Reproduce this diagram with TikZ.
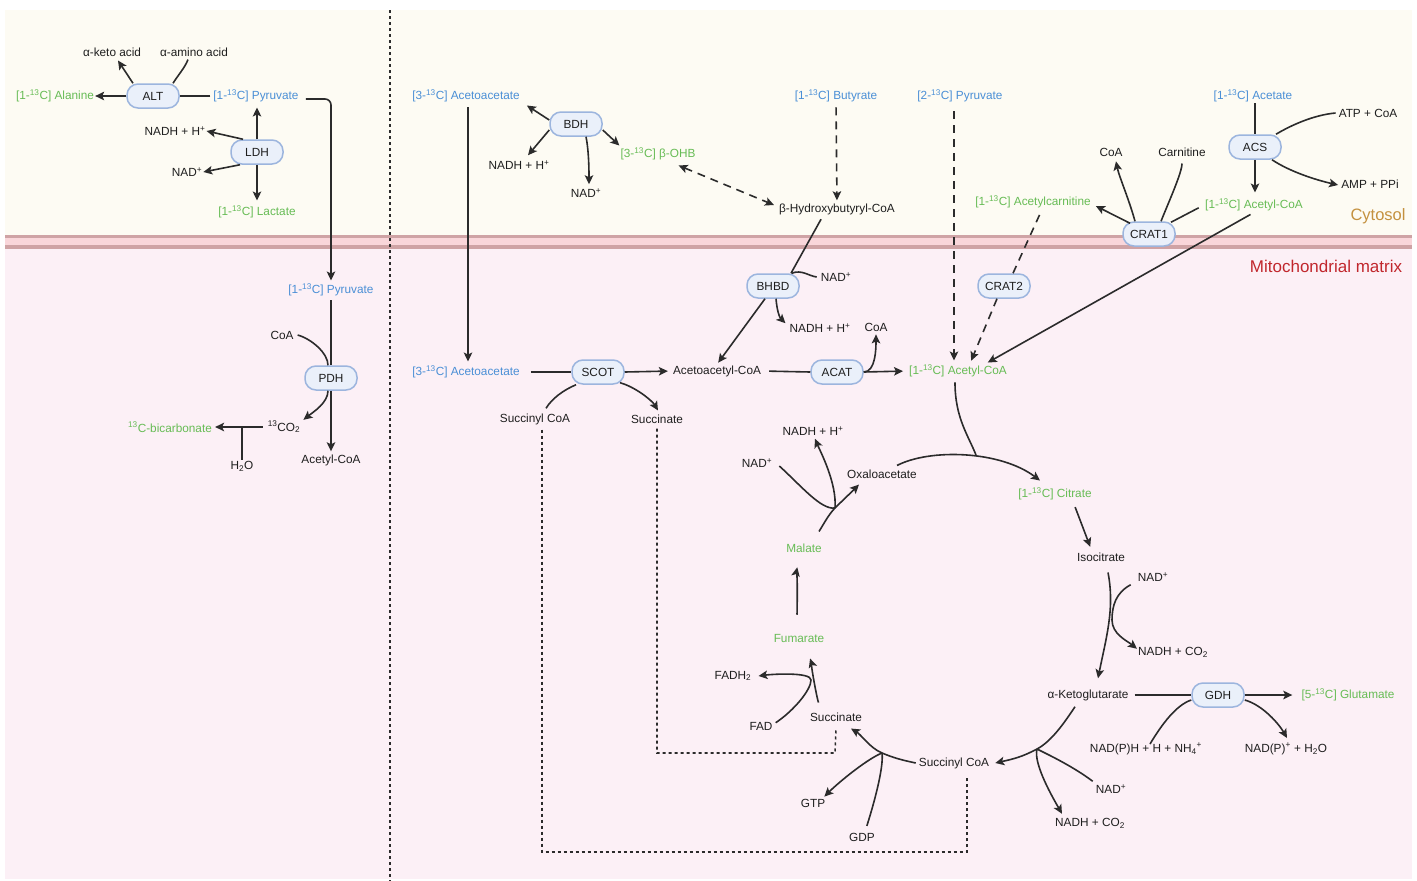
\documentclass[tikz,border=0pt]{standalone}
\usepackage{fontspec}
\setmainfont{Liberation Sans}
\usetikzlibrary{arrows.meta,calc}
\definecolor{cyto}{HTML}{FDFBF3}
\definecolor{mito}{HTML}{FCF0F6}
\definecolor{memf}{HTML}{F9D6DA}
\definecolor{memd}{HTML}{CFA3A5}
\definecolor{blu}{HTML}{4A8FD6}
\definecolor{grn}{HTML}{67BC55}
\definecolor{txt}{HTML}{1E1E1E}
\definecolor{lc}{HTML}{2B2B2B}
\definecolor{enzf}{HTML}{EAF0FA}
\definecolor{enzd}{HTML}{9CB5DE}
\definecolor{cytc}{HTML}{C4913F}
\definecolor{mitc}{HTML}{C1272D}
\newcommand\lbf{\fontsize{11.8}{13}\selectfont}
\newcommand\myup[1]{\textsuperscript{#1}}
\newcommand\mydn[1]{\textsubscript{#1}}
\tikzset{
 lbl/.style={font=\lbf, inner sep=1pt, text=txt},
 blu/.style={lbl, text=blu},
 grn/.style={lbl, text=grn},
 enz/.style={draw=enzd, fill=enzf, line width=1.5pt, rounded corners=11pt, minimum width=52pt, minimum height=24pt, font=\lbf, inner sep=2pt, text=txt},
 conn/.style={draw=lc, line width=1.6pt},
 tip/.tip={Stealth[length=9pt,width=8.5pt,inset=2pt]},
 arr/.style={conn, -tip},
 dsh/.style={conn, dash pattern=on 8pt off 6pt},
 dsharr/.style={dsh, -tip},
 dotln/.style={conn, dash pattern=on 3pt off 3pt},
}
\begin{document}
\begin{tikzpicture}[x=1pt,y=-1pt]
% background
\useasboundingbox (0,0) rectangle (1417,881);
\fill[white] (0,0) rectangle (1417,881);
\fill[cyto] (5,10) rectangle (1412,236);
\fill[mito] (5,247) rectangle (1412,879);
\fill[memf] (5,236) rectangle (1412,247);
\draw[memd, line width=3.5pt] (5,236.5) -- (1412,236.5);
\draw[memd, line width=3.5pt] (5,247) -- (1412,247);
\draw[lc, line width=1.5pt, dash pattern=on 3pt off 3pt] (390,10) -- (390,881);
\node[font=\fontsize{16.5}{19}\selectfont, text=cytc] (cytl) at (1378,216) {Cytosol};
\node[font=\fontsize{17}{19}\selectfont, text=mitc] (mitl) at (1326,266) {Mitochondrial matrix};

% ---------- left panel ----------
\node[lbl] (aketo) at (112,52) {α-keto acid};
\node[lbl] (aamino) at (194,52) {α-amino acid};
\node[enz] (alt) at (153,96) {ALT};
\node[grn] (ala) at (55,96) {[1-\myup{13}C] Alanine};
\node[blu] (pyr1) at (256,96) {[1-\myup{13}C] Pyruvate};
\node[enz] (ldh) at (257,152) {LDH};
\node[lbl] (nadh1) at (175,131) {NADH + H\myup{+}};
\node[lbl] (nad1) at (187,172) {NAD\myup{+}};
\node[grn] (lac) at (257,212) {[1-\myup{13}C] Lactate};
\node[blu] (pyr2) at (331,290) {[1-\myup{13}C] Pyruvate};
\node[enz] (pdh) at (331,378) {PDH};
\node[lbl] (coa1) at (282,335) {CoA};
\node[lbl] (co2) at (284,427) {\myup{13}CO\mydn{2}};
\node[grn] (bicarb) at (170,427) {\myup{13}C-bicarbonate};
\node[lbl] (h2o) at (242,466) {H\mydn{2}O};
\node[lbl] (accoa1) at (331,460) {Acetyl-CoA};

\draw[arr] (alt.west) -- (ala.east);
\draw[conn, shorten <=2pt] (pyr1.west) -- (alt.east);
\draw[arr] ([xshift=-20pt]alt.north) -- ([xshift=6pt,yshift=-3pt]aketo.south);
\draw[conn] ([xshift=20pt]alt.north) .. controls +(5,-8) and +(-3,8) .. ([xshift=-6pt,yshift=-2pt]aamino.south);
\draw[arr, shorten >=4pt] (ldh.north) -- (pyr1.south -| ldh.north);
\draw[arr, shorten >=4pt] (ldh.south) -- (lac.north);
\draw[arr] ([xshift=-14pt]ldh.north) -- (nadh1.east);
\draw[arr] ([xshift=-17pt]ldh.south) -- (nad1.east);
\draw[arr, rounded corners=6pt, shorten <=6pt, shorten >=2pt] ([yshift=-3pt]pyr1.east) -| (pyr2.north);
\draw[conn, shorten <=3pt] (pyr2.south) -- (pdh.north);
\draw[arr, shorten >=2pt] (pdh.south) -- (accoa1.north);
\draw[conn] ([xshift=3pt]coa1.east) .. controls +(14,4) and +(0,-12) .. ([xshift=-3pt]pdh.north);
\draw[arr] ([xshift=-3pt]pdh.south) .. controls +(0,12) and +(10,-8) .. ([xshift=2pt]co2.north east);
\draw[arr, shorten <=4pt, shorten >=2pt] (co2.west) -- (bicarb.east);
\draw[conn] (h2o.north) -- (h2o.north |- bicarb.east);

% ---------- ketone bodies ----------
\node[blu] (aa1) at (466,96) {[3-\myup{13}C] Acetoacetate};
\node[blu] (aa2) at (466,372) {[3-\myup{13}C] Acetoacetate};
\node[enz] (bdh) at (576,124) {BDH};
\node[lbl] (nadh2) at (519,165) {NADH + H\myup{+}};
\node[lbl] (nad2) at (586,193) {NAD\myup{+}};
\node[grn] (ohb) at (658,154) {[3-\myup{13}C] β-OHB};
\node[lbl] (bhcoa) at (837,209) {β-Hydroxybutyryl-CoA};
\node[blu] (but) at (836,96) {[1-\myup{13}C] Butyrate};
\node[blu] (pyr3) at (960,96) {[2-\myup{13}C] Pyruvate};
\node[grn] (accoa2) at (958,371) {[1-\myup{13}C] Acetyl-CoA};
\node[enz] (bhbd) at (773,286) {BHBD};
\node[lbl] (nad3) at (836,277) {NAD\myup{+}};
\node[lbl] (nadh3) at (820,328) {NADH + H\myup{+}};
\node[enz] (scot) at (598,372) {SCOT};
\node[lbl] (acac) at (717,371) {Acetoacetyl-CoA};
\node[lbl] (succoa1) at (535,419) {Succinyl CoA};
\node[lbl] (succ1) at (657,419) {Succinate};
\node[enz] (acat) at (837,372) {ACAT};
\node[lbl] (coa2) at (876,327) {CoA};

\draw[arr, shorten <=4pt, shorten >=3pt] ([xshift=2pt]aa1.south) -- ([xshift=2pt]aa2.north);
\draw[arr] ([yshift=4pt]bdh.west) -- ([xshift=6pt,yshift=-2pt]aa1.south east);
\draw[arr] ([yshift=-6pt]bdh.west) -- ([xshift=9pt,yshift=4pt]nadh2.north);
\draw[arr] ([xshift=10pt]bdh.south) .. controls +(3,15) and +(0,-12) .. ([xshift=3pt,yshift=3pt]nad2.north);
\draw[arr] ([yshift=-6pt]bdh.east) -- ([yshift=1pt]ohb.north west);
\draw[dsh, tip-tip] ([xshift=-18pt,yshift=-4pt]ohb.south east) -- ([xshift=-4pt,yshift=4pt]bhcoa.west);
\draw[dsharr, shorten <=4pt, shorten >=2pt] (but.south) -- (bhcoa.north);
\draw[dsharr, shorten <=8pt, shorten >=3pt] ([xshift=-6pt]pyr3.south) -- ([xshift=-4pt]accoa2.north);
\draw[conn, shorten <=4pt] ([xshift=-14pt]bhcoa.south) -- ([xshift=18pt]bhbd.north);
\draw[arr, shorten >=2pt] ([xshift=-8pt]bhbd.south) -- (acac.north);
\draw[conn] ([xshift=-8pt]bhbd.north east) .. controls +(10,-4) and +(-8,-1) .. ([xshift=-3pt]nad3.west);
\draw[arr] ([xshift=3pt]bhbd.south) .. controls +(1,12) and +(-6,-6) .. ([xshift=-3pt,yshift=-1pt]nadh3.north west);
\draw[conn, shorten <=10pt] (aa2.east) -- (scot.west);
\draw[arr, shorten >=4pt] (scot.east) -- (acac.west);
\draw[conn] ([xshift=11pt,yshift=4pt]succoa1.north) .. controls +(6,-10) and +(-12,5) .. ([xshift=-22pt]scot.south);
\draw[arr] ([xshift=22pt,yshift=2pt]scot.south) .. controls +(15,4) and +(-6,-10) .. ([xshift=1pt,yshift=3pt]succ1.north);
\draw[conn, shorten <=7pt] (acac.east) -- (acat.west);
\draw[arr, shorten >=5pt] (acat.east) -- (accoa2.west);
\draw[arr] (acat.east) .. controls +(12,0) and +(0,14) .. ([yshift=-2pt]coa2.south);

% ---------- acetate / carnitine ----------
\node[grn] (acarn) at (1033,202) {[1-\myup{13}C] Acetylcarnitine};
\node[enz] (crat2) at (1004,286) {CRAT2};
\node[enz] (crat1) at (1149,234) {CRAT1};
\node[lbl] (coa3) at (1111,152) {CoA};
\node[lbl] (carn) at (1182,152) {Carnitine};
\node[grn] (accoa3) at (1254,205) {[1-\myup{13}C] Acetyl-CoA};
\node[blu] (acet) at (1253,96) {[1-\myup{13}C] Acetate};
\node[enz] (acs) at (1255,147) {ACS};
\node[lbl] (atp) at (1368,113) {ATP + CoA};
\node[lbl] (amp) at (1370,184) {AMP + PPi};

\draw[dsh, shorten <=6pt] ([xshift=9pt]acarn.south) -- ([xshift=9pt]crat2.north);
\draw[dsharr, shorten >=3pt] ([xshift=-7pt]crat2.south) -- ([xshift=12pt]accoa2.north);
\draw[arr] ([xshift=-14pt]crat1.north) .. controls +(-6,-22) and +(3,15) .. ([xshift=5pt,yshift=-4pt]coa3.south);
\draw[conn, shorten >=6pt] ([xshift=12pt]crat1.north) .. controls +(8,-20) and +(0,15) .. (carn.south);
\draw[arr] ([xshift=-19pt,yshift=-2pt]crat1.north) -- ([xshift=4pt,yshift=-4pt]acarn.east);
\draw[conn, shorten <=6pt] (accoa3.west) -- ([xshift=22pt,yshift=-1pt]crat1.north);
\draw[arr, shorten <=4pt, shorten >=2pt] (accoa3.south) -- ([xshift=28pt]accoa2.north);
\draw[conn] (acs.north |- acet.south) -- (acs.north);
\draw[arr, shorten >=5pt] (acs.south) -- (accoa3.north -| acs.south);
\draw[conn] ([xshift=21pt]acs.north) .. controls +(15,-9) and +(-22,2) .. ([xshift=-2pt]atp.west);
\draw[arr] ([xshift=17pt]acs.south) .. controls +(18,12) and +(-22,-5) .. ([xshift=-2pt,yshift=-1pt]amp.west);

% ---------- TCA cycle ----------
\node[lbl] (oaa) at (882,474) {Oxaloacetate};
\node[grn] (cit) at (1055,494) {[1-\myup{13}C] Citrate};
\node[lbl] (iso) at (1101,557) {Isocitrate};
\node[lbl] (nad4) at (1153,577) {NAD\myup{+}};
\node[lbl] (nadhco2a) at (1173,652) {NADH + CO\mydn{2}};
\node[lbl] (akg) at (1088,695) {α-Ketoglutarate};
\node[enz] (gdh) at (1218,695) {GDH};
\node[grn] (glu) at (1348,695) {[5-\myup{13}C] Glutamate};
\node[lbl] (nadph) at (1146,749) {NAD(P)H + H + NH\mydn{4}\myup{+}};
\node[lbl] (nadp) at (1286,749) {NAD(P)\myup{+} + H\mydn{2}O};
\node[lbl] (nad5) at (1111,789) {NAD\myup{+}};
\node[lbl] (nadhco2b) at (1090,823) {NADH + CO\mydn{2}};
\node[lbl] (succoa2) at (954,763) {Succinyl CoA};
\node[lbl] (gdp) at (862,837) {GDP};
\node[lbl] (gtp) at (813,803) {GTP};
\node[lbl] (succ2) at (836,717) {Succinate};
\node[lbl] (fad) at (761,726) {FAD};
\node[lbl] (fadh2) at (733,676) {FADH\mydn{2}};
\node[grn] (fum) at (799,638) {Fumarate};
\node[grn] (mal) at (804,548) {Malate};
\node[lbl] (nad6) at (757,463) {NAD\myup{+}};
\node[lbl] (nadh6) at (813,431) {NADH + H\myup{+}};

\coordinate (j1) at (976,455);
\coordinate (j2) at (1112,620);
\coordinate (j3) at (1037,749);
\coordinate (j4) at (882,753);
\coordinate (j5) at (811,680);
\coordinate (j6) at (835,508);
\coordinate (d1) at (967,852);
\coordinate (d2) at (835,753);

\draw[arr] ([xshift=15pt,yshift=3pt]oaa.north) .. controls +(33,-17) and +(-40,-30) .. ([xshift=-15pt,yshift=6pt]cit.north);
\draw[conn] ([xshift=-3pt,yshift=-4pt]accoa2.south) .. controls +(0,35) and +(-8,-20) .. (j1);
\draw[arr, shorten <=6pt, shorten >=5pt] ([xshift=18pt]cit.south) -- ([xshift=-9pt]iso.north);
\draw[arr] ([xshift=7pt,yshift=-10pt]iso.south) .. controls +(7,36) and +(8,-40) .. ([xshift=10pt,yshift=10pt]akg.north);
\draw[arr] ([xshift=-6pt,yshift=-2pt]nad4.south west) .. controls +(-15,8) and +(0,-14) .. (j2) .. controls +(0,14) and +(-10,-8) .. ([yshift=-3pt]nadhco2a.north west);
\draw[conn, shorten <=5pt] (akg.east) -- (gdh.west);
\draw[arr, shorten >=8pt] (gdh.east) -- (glu.west);
\draw[conn] ([xshift=4pt,yshift=-2pt]nadph.north) .. controls +(12,-20) and +(-15,5) .. ([yshift=-5pt]gdh.west);
\draw[arr] ([yshift=-5pt]gdh.east) .. controls +(18,5) and +(-8,-14) .. ([xshift=1pt,yshift=4pt]nadp.north);
\draw[arr] ([xshift=-13pt,yshift=-5pt]akg.south) .. controls +(-10,15) and +(15,-8) .. (j3) .. controls +(-15,8) and +(18,-4) .. ([xshift=5pt]succoa2.east);
\draw[conn] ([xshift=-2pt,yshift=2pt]nad5.north west) .. controls +(-20,-15) and +(12,6) .. (j3);
\draw[arr] (j3) .. controls +(-4,15) and +(-8,-14) .. ([xshift=-28pt,yshift=3pt]nadhco2b.north);
\draw[arr] ([xshift=-2pt]succoa2.west) .. controls +(-14,-3) and +(12,5) .. (j4) .. controls +(-12,-5) and +(10,6) .. ([xshift=15pt,yshift=-6pt]succ2.south);
\draw[arr] (j4) .. controls +(-15,6) and +(14,-14) .. ([xshift=-2pt,yshift=1pt]gtp.north east);
\draw[conn, shorten <=6pt] ([xshift=3pt]gdp.north) .. controls +(8,-25) and +(2,15) .. (j4);
\draw[arr, shorten <=10pt, shorten >=16pt] ([xshift=-13pt]succ2.north) .. controls +(-6,-12) and +(4,12) .. ([xshift=6pt]fum.south);
\draw[arr] ([xshift=2pt,yshift=-2pt]fad.north east) .. controls +(18,-12) and +(0,10) .. (j5) .. controls +(0,-8) and +(15,-2) .. ([xshift=6pt]fadh2.east);
\draw[arr, shorten <=18pt, shorten >=14pt] ([xshift=-2pt]fum.north) .. controls +(0,-15) and +(-2,10) .. ([xshift=-4pt]mal.south);
\draw[arr] ([xshift=15pt,yshift=11pt]mal.north) .. controls +(5,-8) and +(-6,6) .. (j6) .. controls +(6,-6) and +(-8,8) .. ([xshift=-23pt,yshift=-5pt]oaa.south);
\draw[conn] ([xshift=6pt,yshift=-3pt]nad6.east) .. controls +(22,20) and +(-14,2) .. (j6);
\draw[arr] (j6) .. controls +(2,-25) and +(5,12) .. ([xshift=2pt,yshift=-2pt]nadh6.south);

\draw[dotln, shorten <=4pt] ([xshift=7pt]succoa1.south) |- (d1) -- ([xshift=13pt,yshift=-6pt]succoa2.south);
\draw[dotln, shorten <=4pt] (succ1.south) |- (d2) -- ([yshift=-6pt]succ2.south);
\end{tikzpicture}
\end{document}
